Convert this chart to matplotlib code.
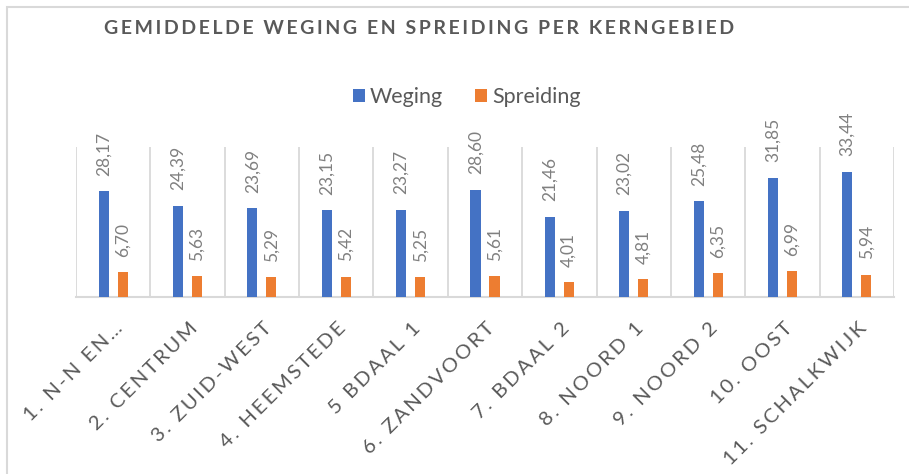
import matplotlib
matplotlib.use("Agg")
import matplotlib.pyplot as plt
import numpy as np
from matplotlib.patches import Rectangle
from matplotlib.transforms import blended_transform_factory

# data
regions = ["1. N-N EN…", "2. CENTRUM", "3. ZUID-WEST", "4. HEEMSTEDE", "5 BDAAL 1",
           "6. ZANDVOORT", "7. BDAAL 2", "8. NOORD 1", "9. NOORD 2", "10. OOST",
           "11. SCHALKWIJK"]
weging = [28.17, 24.39, 23.69, 23.15, 23.27, 28.60, 21.46, 23.02, 25.48, 31.85, 33.44]
spreiding = [6.70, 5.63, 5.29, 5.42, 5.25, 5.61, 4.01, 4.81, 6.35, 6.99, 5.94]

BLUE = "#4472C4"
ORANGE = "#ED7D31"
GRID = "#D9D9D9"
TEXT = "#595959"
LABEL = "#808080"

plt.rcParams["font.family"] = ["Lato", "DejaVu Sans"]


def spaced(s: str, sep: str = "\u2009") -> str:
    return sep.join(s)


def nl(v: float) -> str:
    return f"{v:.2f}".replace(".", ",")


fig = plt.figure(figsize=(9.09, 4.74), dpi=100)
ax = fig.add_axes([76 / 909, 1 - 297 / 474, (894 - 76) / 909, 150 / 474])

x = np.arange(len(regions))
off = 0.128
w = 0.135
b1 = ax.bar(x - off, weging, width=w, color=BLUE, label="Weging", zorder=3)
b2 = ax.bar(x + off, spreiding, width=w, color=ORANGE, label="Spreiding", zorder=3)

for bars, vals in [(b1, weging), (b2, spreiding)]:
    for rect, v in zip(bars, vals):
        ax.annotate(nl(v), (rect.get_x() + rect.get_width() / 2, rect.get_height()),
                    xytext=(0, 11), textcoords="offset points", rotation=90,
                    ha="center", va="bottom", fontsize=12.5, color=LABEL,
                    annotation_clip=False)

for k in range(len(regions) + 1):
    ax.axvline(k - 0.5, color=GRID, lw=1.3, zorder=1)

ax.set_xlim(-0.5, len(regions) - 0.5)
ax.set_ylim(0, 40)
for side in ["top", "left", "right"]:
    ax.spines[side].set_visible(False)
ax.spines["bottom"].set_color(GRID)
ax.spines["bottom"].set_linewidth(1.5)
ax.set_xticks([])
ax.set_yticks([])

# category names, rotated like Excel does it
trans = blended_transform_factory(ax.transData, ax.transAxes)
for i, name in enumerate(regions):
    ax.annotate(spaced(name), (i, 0), xycoords=trans, xytext=(5.0, -20.5),
                textcoords="offset points", rotation=45, rotation_mode="anchor",
                ha="right", va="center", fontsize=14.7, color=TEXT,
                annotation_clip=False)

fig.text(419 / 909, 1 - 28 / 474, spaced("GEMIDDELDE WEGING EN SPREIDING PER KERNGEBIED"),
         ha="center", va="center", fontsize=14, fontweight="bold", color=TEXT)

fig.legend(handles=[b1, b2], labels=["Weging", "Spreiding"], loc="center",
           bbox_to_anchor=(467 / 909, 1 - 97 / 474), ncol=2, frameon=False,
           fontsize=15.5, labelcolor=TEXT, handlelength=0.55, handleheight=0.55,
           handletextpad=0.25, columnspacing=1.5)

# light frame around the chart area
fig.patches.append(Rectangle((7 / 909, -0.1), 2, 1.1 - 7 / 474, transform=fig.transFigure,
                             fill=False, edgecolor=GRID, lw=1.5))

fig.savefig("out.png", dpi=100)
